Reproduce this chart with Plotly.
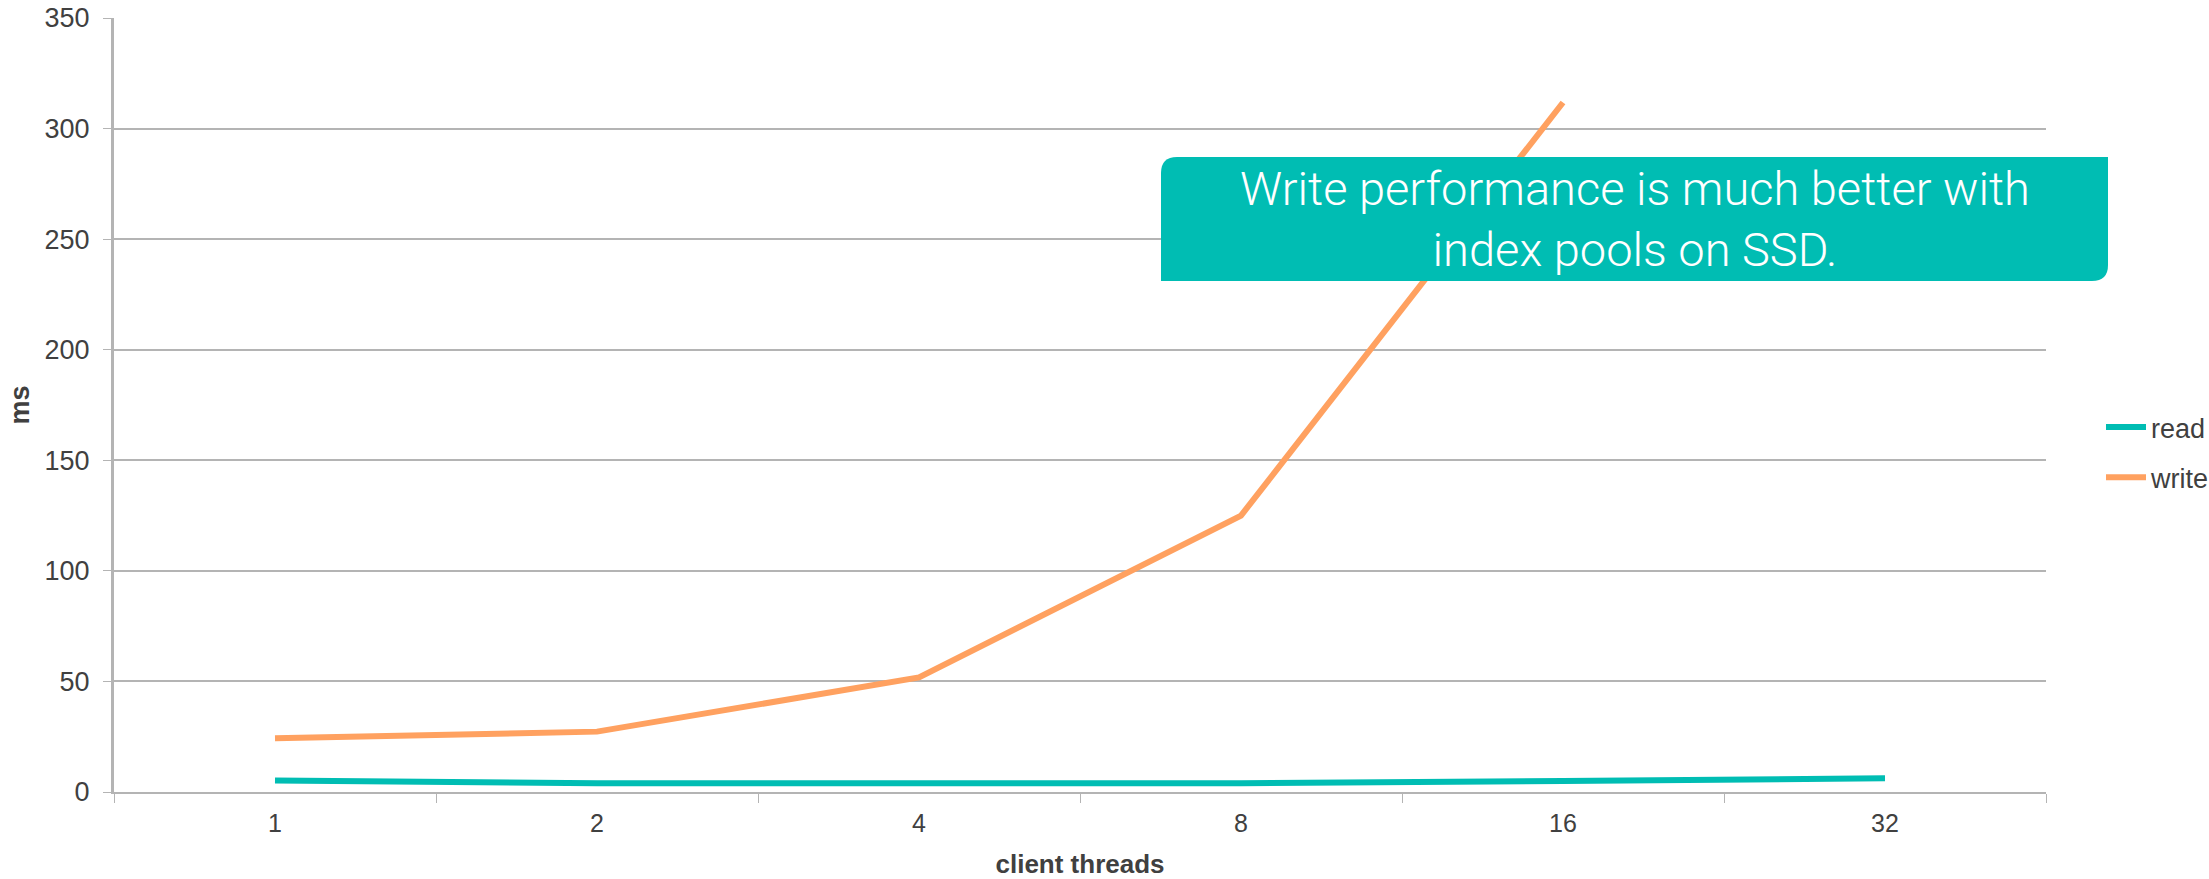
import plotly.graph_objects as go

# Latency per client thread count
threads = ["1", "2", "4", "8", "16", "32"]
read_ms = [5.2, 4.0, 4.0, 4.0, 5.0, 6.2]
write_ms = [24.3, 27.3, 51.8, 125.0, 311.8, None]

TEAL = "rgb(0,189,179)"
ORANGE = "rgb(255,161,96)"
GRID = "rgb(180,180,180)"
TEXT = "rgb(64,64,64)"
FONT = "Liberation Sans, Arial, sans-serif"

W, H = 2209, 879
ML, MR, MT, MB = 114, 163, 18, 87
PW, PH = W - ML - MR, H - MT - MB


def px_x(p):
    return (p - ML) / PW


def px_y(p):
    return (H - MB - p) / PH


fig = go.Figure()
fig.add_trace(go.Scatter(x=threads, y=read_ms, name="read", mode="lines",
                         line=dict(color=TEAL, width=6), legendgroup="r"))
fig.add_trace(go.Scatter(x=threads, y=write_ms, name="write", mode="lines",
                         line=dict(color=ORANGE, width=6), legendgroup="w"))

# Callout box with rounded top-left and bottom-right corners
L, R, T, B = px_x(1161), px_x(2108), px_y(157), px_y(281)
rx, ry = 16 / PW, 16 / PH
path = (f"M {L},{B} L {L},{T - ry} Q {L},{T} {L + rx},{T} "
        f"L {R},{T} L {R},{B + ry} Q {R},{B} {R - rx},{B} Z")
fig.add_shape(type="path", path=path, xref="paper", yref="paper",
              fillcolor="rgb(0,189,179)", line=dict(width=0), layer="above")
fig.add_annotation(x=(L + R) / 2, y=(T + B) / 2, xref="paper", yref="paper",
                   xanchor="center", yanchor="middle", align="center",
                   text="Write performance is much better with<br>index pools on SSD.",
                   showarrow=False,
                   font=dict(family="Roboto, Liberation Sans, sans-serif", size=47,
                             color="white", weight=300))

fig.update_layout(
    width=W, height=H,
    margin=dict(l=ML, r=MR, t=MT, b=MB, autoexpand=False),
    paper_bgcolor="white", plot_bgcolor="white",
    font=dict(family=FONT, color=TEXT, size=24),
    showlegend=True,
    legend=dict(x=px_x(2101), y=px_y(403), xanchor="left", yanchor="top",
                font=dict(size=27, color=TEXT), tracegroupgap=12,
                traceorder="grouped", itemwidth=40),
    xaxis=dict(type="category", range=[-0.5, 5.5], showgrid=False, automargin=False,
               showline=True, linecolor=GRID, linewidth=2,
               ticks="outside", tickson="boundaries", ticklen=9, tickcolor=GRID,
               tickfont=dict(size=25, color=TEXT), ticklabelstandoff=8,
               title=dict(text="<b>client threads</b>", font=dict(size=26, color=TEXT),
                          standoff=21)),
    yaxis=dict(range=[0, 350], dtick=50, showgrid=True, gridcolor=GRID, gridwidth=1.5,
               showline=True, linecolor=GRID, linewidth=3, zeroline=False,
               automargin=False,
               ticks="outside", ticklen=8, tickcolor=GRID,
               tickfont=dict(size=27, color=TEXT), ticklabelstandoff=8,
               title=dict(text="<b>ms</b>", font=dict(size=27, color=TEXT), standoff=8)),
)

fig.write_html("out.html")
